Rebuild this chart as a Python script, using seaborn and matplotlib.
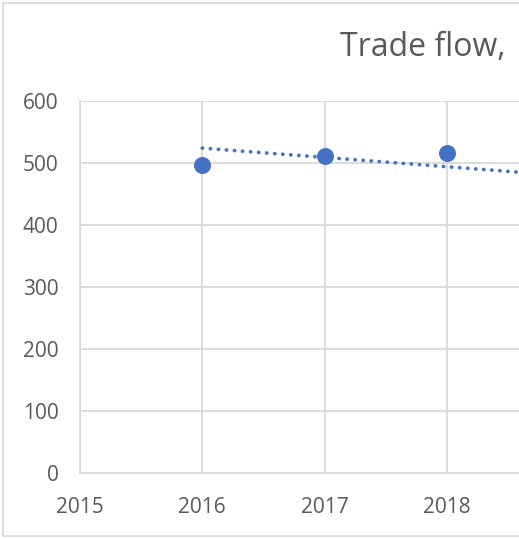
import matplotlib
matplotlib.use("Agg")
import matplotlib.pyplot as plt
import seaborn as sns
import pandas as pd
import numpy as np
from matplotlib.patches import Rectangle

years = [2016, 2017, 2018]
values = [497, 511, 516]
# linear trendline (value at 2016 and slope per year)
trend_years = [2016, 2018.6]
trend_start = 524
trend_slope = -15.0
y_ticks = [0, 100, 200, 300, 400, 500, 600]
x_ticks = [2015, 2016, 2017, 2018]
title = "Trade flow,"

sns.set_theme(style="white")
plt.rcParams['font.family'] = ['Open Sans', 'DejaVu Sans']

W, H = 519, 539
fig = plt.figure(figsize=(W / 100, H / 100), dpi=100)
fig.patch.set_facecolor("white")
ax = fig.add_axes([80 / W, 1 - 473 / H, 1 - 80 / W, (473 - 101) / H])

df = pd.DataFrame({"year": years, "value": values})
tdf = pd.DataFrame({"year": trend_years,
                    "value": [trend_start + trend_slope * (y - trend_years[0]) for y in trend_years]})

blue = "#4472C4"
sns.lineplot(data=tdf, x="year", y="value", ax=ax, color=blue, linewidth=2.7,
             linestyle=(0, (0.05, 2.1)), solid_capstyle="round", dash_capstyle="round", zorder=3)
sns.scatterplot(data=df, x="year", y="value", ax=ax, color=blue, s=150, edgecolor=blue,
                linewidth=0, zorder=4)

ax.set_xlim(2015, 2015 + (W - 80) / 122.3)
ax.set_ylim(0, 600)
ax.set_xticks(x_ticks)
ax.set_yticks(y_ticks)
ax.set_xticklabels([str(t) for t in x_ticks])
ax.grid(True, color="#d9d9d9", linewidth=1.3)
ax.set_axisbelow(True)
for s in ["top", "right"]:
    ax.spines[s].set_visible(False)
ax.spines["bottom"].set_color("#d9d9d9")
ax.spines["left"].set_color("#d9d9d9")
ax.spines["bottom"].set_linewidth(1.3)
ax.spines["left"].set_linewidth(1.3)
ax.tick_params(axis="both", length=0, labelsize=15, colors="#595959")
ax.tick_params(axis="y", pad=15.5)
ax.tick_params(axis="x", pad=17.5)
ax.set_xlabel("")
ax.set_ylabel("")

fig.text(340 / W, 1 - 47 / H, title, ha="left", va="center", fontsize=23, color="#595959")

fig.patches.append(Rectangle((3 / W, 3 / H), 1.2, 1 - 6 / H, transform=fig.transFigure,
                             fill=False, edgecolor="#d9d9d9", linewidth=1.3, zorder=0))

fig.savefig("out.png", dpi=100, facecolor="white")
